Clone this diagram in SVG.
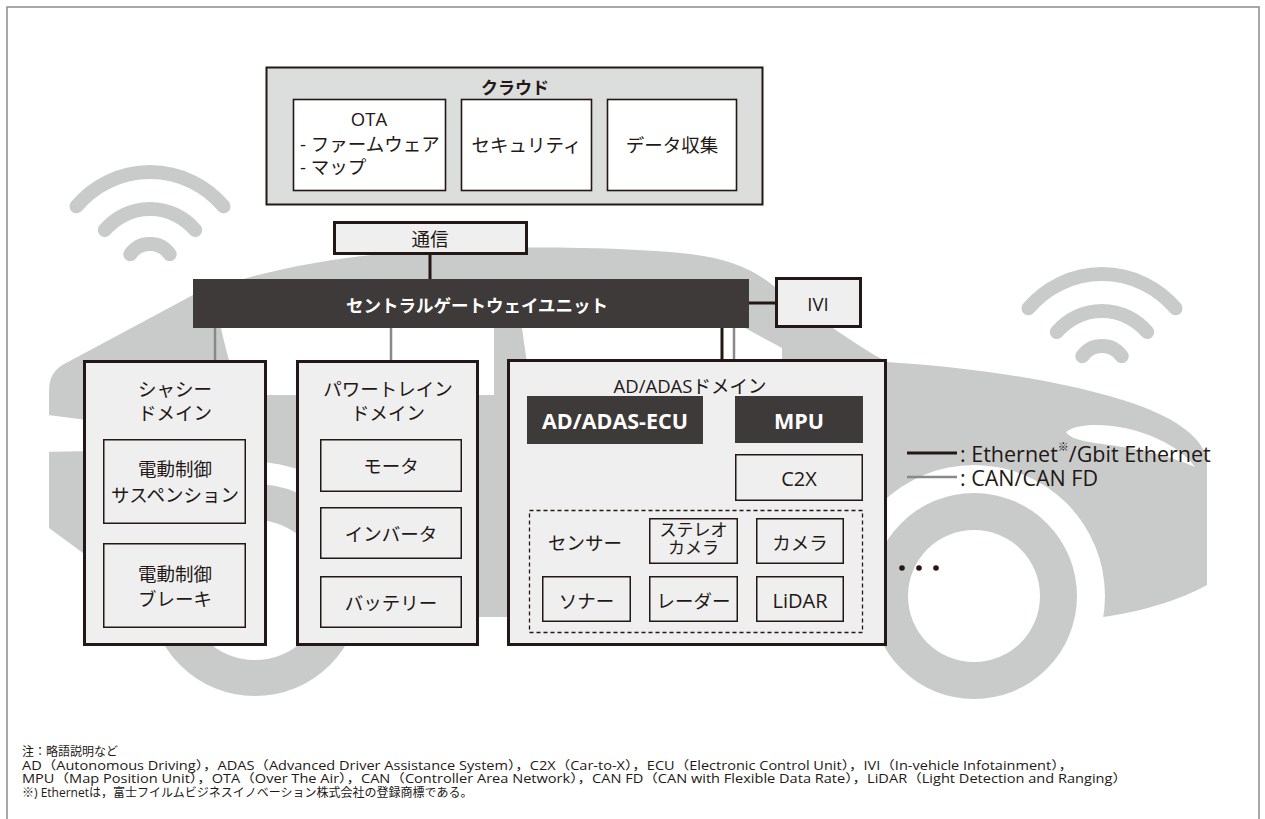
<svg xmlns="http://www.w3.org/2000/svg" width="1265" height="819" viewBox="0 0 1265 819">
  <defs>
    <style>
      .t { font-family: "Open Sans", "Noto Sans CJK JP", sans-serif; fill: #231815; font-size: 18.5px; dominant-baseline: central; text-anchor: middle; }
      .tl { text-anchor: start; }
      .b { font-weight: bold; }
      .w { fill: #ffffff; }
      .jp { font-family: "Noto Sans CJK JP", sans-serif; }
      .note { font-family: "Open Sans", "Noto Sans CJK JP", sans-serif; fill: #231815; font-size: 12px; dominant-baseline: central; }
      .dom { fill: #efefef; stroke: #231815; stroke-width: 3; }
      .inner { fill: #efefef; stroke: #231815; stroke-width: 1.5; }
      .white { fill: #ffffff; stroke: #231815; stroke-width: 1.6; }
      .dark { fill: #3e3a39; }
      .eth { stroke: #231815; stroke-width: 3; fill: none; }
      .can { stroke: #898989; stroke-width: 2.5; fill: none; }
      .car { fill: #c9caca; }
      .gap { fill: #ffffff; }
      .wifi { fill: none; stroke: #c9caca; stroke-width: 14; stroke-linecap: round; }
    </style>
  </defs>

  <rect x="0" y="0" width="1265" height="819" fill="#ffffff"/>

  <!-- background car silhouette -->
  <g id="car">
    <path class="car" d="M49,392 C49,376 55,368 68,362 L193,295 C240,278 300,262 380,254 C470,246 600,245 690,254 C730,259 755,270 775,287 C815,315 850,342 887,362 C980,368 1070,382 1135,404 C1180,420 1205,440 1207,462 L1207,585 C1180,600 1140,612 1103,617 L170,617 L49,528 Z"/>
    <!-- rear window -->
    <path class="gap" d="M222,300 L494,300 L494,395 L250,395 C236,385 229,365 221,328 Z"/>
    <!-- front window -->
    <path class="gap" d="M518,300 L730,300 L745,328 L782,348 L782,420 L535,420 Z"/>
    <!-- rear stripe -->
    <path class="gap" d="M40,414 L95,421 L95,451 L40,452 Z"/>
    <!-- headlight -->
    <path class="gap" d="M1066,432 C1075,424 1100,423 1125,428 C1160,436 1185,452 1195,467 C1170,456 1140,449 1110,445 C1085,442 1070,439 1066,432 Z"/>
    <!-- wheel arches -->
    <circle class="gap" cx="255" cy="590" r="128"/>
    <circle class="gap" cx="974" cy="596" r="131"/>
    <!-- wheels -->
    <circle class="car" cx="255" cy="590" r="106"/>
    <circle class="gap" cx="255" cy="590" r="70"/>
    <circle class="car" cx="974" cy="596" r="103"/>
    <circle class="gap" cx="974" cy="596" r="66"/>
  </g>

  <!-- wireless symbols -->
  <g id="wifi-left">
    <path class="wifi" d="M76.5,206.3 A96,96 0 0 1 223.5,206.3"/>
    <path class="wifi" d="M104.8,230.1 A59,59 0 0 1 195.2,230.1"/>
    <path class="wifi" d="M130.3,254.2 A24,24 0 0 1 169.7,254.2"/>
  </g>
  <g id="wifi-right">
    <path class="wifi" d="M1028.5,308.3 A96,96 0 0 1 1175.5,308.3"/>
    <path class="wifi" d="M1056.8,332.1 A59,59 0 0 1 1147.2,332.1"/>
    <path class="wifi" d="M1082.3,356.2 A24,24 0 0 1 1121.7,356.2"/>
  </g>

  <!-- outer frame -->
  <rect x="7" y="7" width="1252" height="830" fill="none" stroke="#8c8c8c" stroke-width="1.5"/>

  <!-- connectors -->
  <g id="connectors">
    <line class="eth" x1="430" y1="255" x2="430" y2="279"/>
    <line class="eth" x1="749" y1="303" x2="776" y2="303"/>
    <line class="can" x1="215" y1="328" x2="215" y2="361"/>
    <line class="can" x1="391" y1="328" x2="391" y2="361"/>
    <line class="eth" x1="722" y1="328" x2="722" y2="360"/>
    <line class="can" x1="734" y1="328" x2="734" y2="360"/>
    <line class="eth" x1="703" y1="418" x2="735" y2="418"/>
    <polyline class="eth" points="667,444 667,477 736,477"/>
    <line class="can" x1="543" y1="444" x2="543" y2="511"/>
    <line class="eth" x1="555" y1="444" x2="555" y2="511"/>
  </g>

  <!-- cloud -->
  <g id="cloud">
    <rect x="266.5" y="67.5" width="496" height="137" fill="#dcdddd" stroke="#231815" stroke-width="2"/>
    <text class="t b jp" x="515" y="86" style="font-size:17px">クラウド</text>
    <g id="ota">
      <rect class="white" x="293.5" y="99.5" width="152" height="91"/>
      <text class="t" x="369" y="118">OTA</text>
      <text class="t tl" x="300" y="143">- ファームウェア</text>
      <text class="t tl" x="300" y="166">- マップ</text>
    </g>
    <g id="security">
      <rect class="white" x="461.5" y="99.5" width="130" height="91"/>
      <text class="t" x="526.5" y="144">セキュリティ</text>
    </g>
    <g id="data-collection">
      <rect class="white" x="607.5" y="99.5" width="129" height="91"/>
      <text class="t" x="672" y="144">データ収集</text>
    </g>
  </g>

  <g id="comm">
    <rect class="dom" x="334.5" y="222.5" width="192" height="31"/>
    <text class="t" x="430" y="238">通信</text>
  </g>

  <g id="gateway">
    <rect class="dark" x="193" y="279" width="556" height="49"/>
    <text class="t b w jp" x="477" y="304" style="font-size:17.5px">セントラルゲートウェイユニット</text>
  </g>

  <g id="ivi">
    <rect class="dom" x="776.5" y="278.5" width="84" height="48"/>
    <text class="t" x="818" y="303">IVI</text>
  </g>

  <g id="chassis">
    <rect class="dom" x="84.5" y="361.5" width="181" height="283"/>
    <text class="t" x="175" y="388">シャシー</text>
    <text class="t" x="175" y="412">ドメイン</text>
    <g id="suspension">
      <rect class="inner" x="103.75" y="439.75" width="141.5" height="83.5"/>
      <text class="t" x="175" y="468">電動制御</text>
      <text class="t" x="175" y="494">サスペンション</text>
    </g>
    <g id="brake">
      <rect class="inner" x="103.75" y="543.75" width="141.5" height="83.5"/>
      <text class="t" x="175" y="573">電動制御</text>
      <text class="t" x="175" y="598">ブレーキ</text>
    </g>
  </g>

  <g id="powertrain">
    <rect class="dom" x="297.5" y="361.5" width="180" height="283"/>
    <text class="t" x="388" y="388">パワートレイン</text>
    <text class="t" x="388" y="412">ドメイン</text>
    <g id="motor">
      <rect class="inner" x="320.75" y="439.75" width="140.5" height="51.5"/>
      <text class="t" x="391" y="465">モータ</text>
    </g>
    <g id="inverter">
      <rect class="inner" x="320.75" y="507.75" width="140.5" height="50.5"/>
      <text class="t" x="391" y="533">インバータ</text>
    </g>
    <g id="battery">
      <rect class="inner" x="320.75" y="576.75" width="140.5" height="50.5"/>
      <text class="t" x="391" y="602">バッテリー</text>
    </g>
  </g>

  <g id="ad-adas">
    <rect class="dom" x="508.5" y="360.5" width="377" height="284"/>
    <text class="t" x="690" y="385">AD/ADASドメイン</text>
    <g id="ecu">
      <rect class="dark" x="527" y="396" width="176" height="48"/>
      <text class="t b w" x="615" y="420" style="font-size:21.5px">AD/ADAS-ECU</text>
    </g>
    <g id="mpu">
      <rect class="dark" x="735" y="396" width="128" height="47"/>
      <text class="t b w" x="799" y="420" style="font-size:21.5px">MPU</text>
    </g>
    <g id="c2x">
      <rect class="inner" x="735.75" y="454.75" width="126.5" height="45.5"/>
      <text class="t" x="799" y="478" style="font-size:20px">C2X</text>
    </g>
    <g id="sensors">
      <rect x="529.5" y="510.5" width="333" height="122" fill="none" stroke="#231815" stroke-width="1.3" stroke-dasharray="4 3"/>
      <text class="t" x="585" y="542">センサー</text>
      <g id="stereo-camera">
        <rect class="inner" x="649.75" y="518.75" width="87.5" height="44.5"/>
        <text class="t" x="693.5" y="529" style="font-size:17px"><tspan x="693.5" y="529">ステレオ</tspan><tspan x="693.5" y="547">カメラ</tspan></text>
      </g>
      <g id="camera">
        <rect class="inner" x="756.75" y="518.75" width="86.5" height="44.5"/>
        <text class="t" x="800" y="542">カメラ</text>
      </g>
      <g id="sonar">
        <rect class="inner" x="542.75" y="576.75" width="87.5" height="44.5"/>
        <text class="t" x="586.5" y="600">ソナー</text>
      </g>
      <g id="radar">
        <rect class="inner" x="649.75" y="576.75" width="87.5" height="44.5"/>
        <text class="t" x="693.5" y="600">レーダー</text>
      </g>
      <g id="lidar">
        <rect class="inner" x="756.75" y="576.75" width="86.5" height="44.5"/>
        <text class="t" x="800" y="600" style="font-size:20px">LiDAR</text>
      </g>
    </g>
  </g>

  <g id="more">
    <circle cx="902" cy="568" r="2.8" fill="#231815"/>
    <circle cx="919" cy="568" r="2.8" fill="#231815"/>
    <circle cx="936" cy="568" r="2.8" fill="#231815"/>
  </g>

  <g id="legend">
    <line class="eth" x1="907" y1="453" x2="957" y2="453"/>
    <line class="can" x1="907" y1="477" x2="957" y2="477"/>
    <text class="t tl" x="960" y="453" style="font-size:21.5px">: Ethernet<tspan font-size="11" dy="-7">※</tspan><tspan dy="7">/Gbit Ethernet</tspan></text>
    <text class="t tl" x="960" y="477" style="font-size:21.5px">: CAN/CAN FD</text>
  </g>

  <!-- abbreviations and trademark note -->
  <g id="notes">
    <text class="note" x="22" y="751"><tspan x="22" y="751">注：略語説明など</tspan><tspan x="22" y="764.5" textLength="1051" lengthAdjust="spacingAndGlyphs">AD（Autonomous Driving），ADAS（Advanced Driver Assistance System），C2X（Car-to-X），ECU（Electronic Control Unit），IVI（In-vehicle Infotainment），</tspan><tspan x="22" y="778" textLength="1105" lengthAdjust="spacingAndGlyphs">MPU（Map Position Unit），OTA（Over The Air），CAN（Controller Area Network），CAN FD（CAN with Flexible Data Rate），LiDAR（Light Detection and Ranging）</tspan><tspan x="22" y="791.5">※) Ethernetは，富士フイルムビジネスイノベーション株式会社の登録商標である。</tspan></text>
  </g>
</svg>
